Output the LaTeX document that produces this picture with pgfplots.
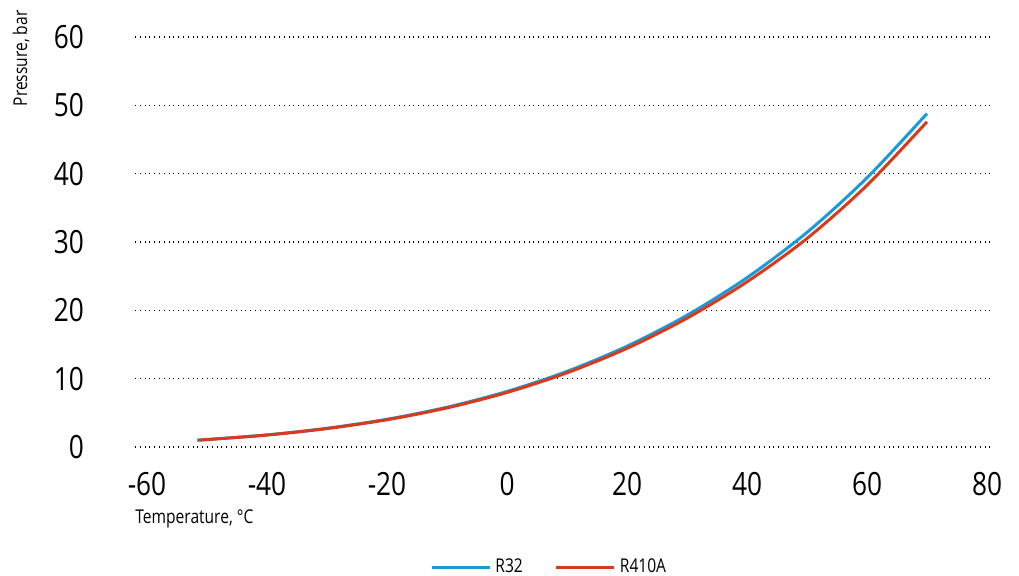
\documentclass[border=0pt]{standalone}
\usepackage{pgfplots}
\pgfplotsset{compat=1.18}
\usepackage{fontspec}
\setmainfont[FakeStretch=0.82]{Open Sans}
\definecolor{rblue}{HTML}{1A9BD7}
\definecolor{rred}{HTML}{DA3A1B}
\begin{document}
\begin{tikzpicture}
\useasboundingbox (-67.5pt,-64pt) rectangle (442pt,223.5pt);
\begin{axis}[
  at={(0,0)}, anchor=south west,
  scale only axis, width=429pt, height=205pt,
  xmin=-62, xmax=81, ymin=0, ymax=60,
  xtick={-60,-40,...,80}, ytick={0,10,...,60},
  axis line style={draw=none},
  major tick length=0pt,
  ymajorgrids, grid style={black, dotted, line width=0.6pt},
  /pgf/number format/assume math mode=true,
  ticklabel style={font=\fontsize{16}{16}\selectfont},
  xticklabel style={yshift=-9pt},
  yticklabel style={xshift=-22pt},
  legend columns=2,
  legend style={draw=none, at={(rel axis cs:0.484,-0.293)}, anchor=center,
    font=\fontsize{9.5}{10}\selectfont,
    /tikz/every even column/.append style={column sep=14pt}},
  legend image code/.code={\draw[#1,line width=1.5pt] (0pt,0pt) -- (29pt,0pt);},
  clip=false,
]
\addplot[rblue, line width=1.5pt, smooth] coordinates {
(-51.65,1.013) (-50,1.10) (-40,1.77) (-30,2.74) (-20,4.06) (-10,5.82) (0,8.13)
(10,11.07) (20,14.75) (30,19.28) (40,24.78) (50,31.41) (60,39.4) (70,48.8)};
\addlegendentry{R32}
\addplot[rred, line width=1.5pt, smooth] coordinates {
(-51.4,1.013) (-50,1.08) (-40,1.75) (-30,2.70) (-20,3.99) (-10,5.72) (0,7.98)
(10,10.86) (20,14.44) (30,18.85) (40,24.17) (50,30.52) (60,38.3) (70,47.6)};
\addlegendentry{R410A}
\node[anchor=north west, yshift=-31pt, font=\fontsize{9.5}{10}\selectfont, inner sep=0pt] at (rel axis cs:0,0) {Temperature, °C};
\node[xshift=-52.5pt, yshift=13.5pt, rotate=90, anchor=south east, font=\fontsize{9.5}{10}\selectfont, inner sep=0pt] at (rel axis cs:0,1) {Pressure, bar};
\end{axis}
\end{tikzpicture}
\end{document}
